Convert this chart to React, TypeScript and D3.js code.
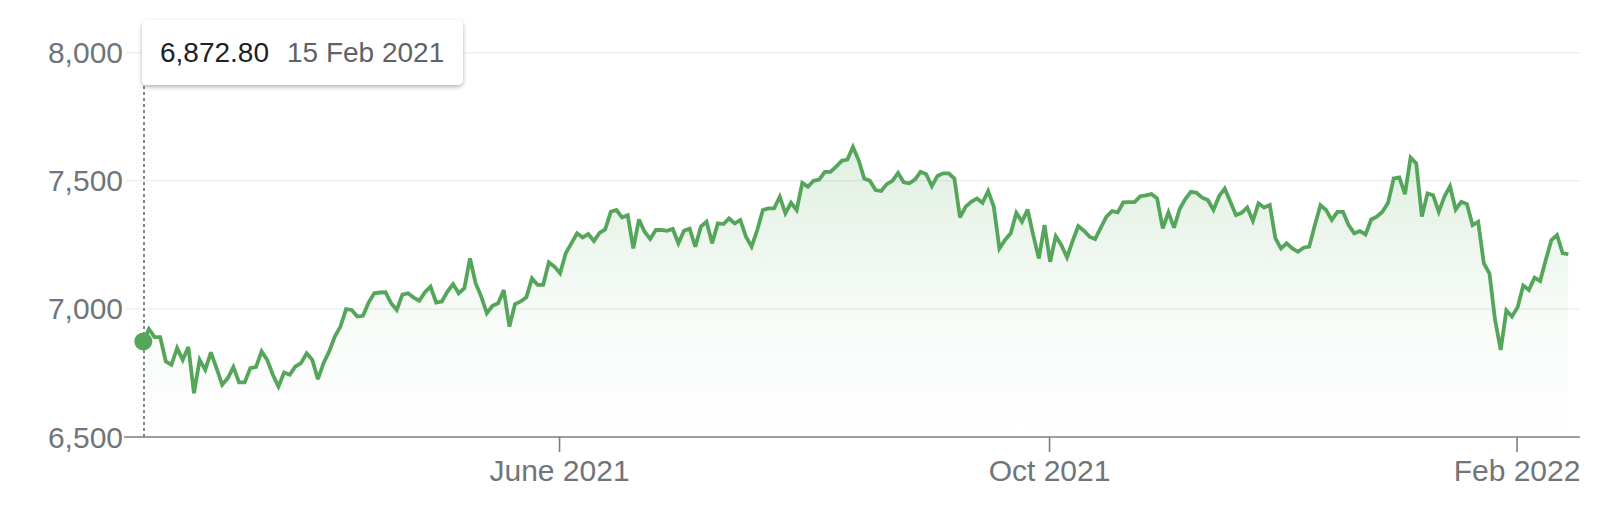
import React from "react";
import * as d3 from "d3";

// Daily closing values, 15 Feb 2021 onward
const values: number[] = [
  6872.8, 6921, 6890, 6890, 6795, 6782, 6847, 6801, 6851, 6671,
  6801, 6762, 6830, 6769, 6704, 6730, 6773, 6713, 6713, 6769,
  6773, 6834, 6801, 6743, 6697, 6752, 6743, 6775, 6788, 6827,
  6801, 6726, 6788, 6834, 6892, 6931, 6999, 6996, 6970, 6973,
  7025, 7061, 7064, 7065, 7022, 6996, 7056, 7061, 7044, 7032,
  7065, 7087, 7025, 7029, 7068, 7097, 7061, 7081, 7197, 7100,
  7048, 6983, 7012, 7022, 7074, 6931, 7019, 7029, 7045, 7119,
  7094, 7094, 7182, 7165, 7139, 7217, 7256, 7295, 7279, 7292,
  7265, 7297, 7310, 7379, 7386, 7357, 7366, 7236, 7349, 7301,
  7273, 7308, 7308, 7305, 7312, 7256, 7305, 7313, 7243, 7321,
  7340, 7256, 7334, 7331, 7353, 7334, 7347, 7282, 7243, 7308,
  7386, 7392, 7392, 7438, 7373, 7414, 7386, 7492, 7477, 7500,
  7505, 7535, 7535, 7555, 7578, 7583, 7632, 7581, 7509, 7500,
  7464, 7460, 7487, 7500, 7531, 7494, 7490, 7505, 7535, 7526,
  7479, 7519, 7529, 7529, 7509, 7357, 7399, 7418, 7431, 7414,
  7460, 7399, 7236, 7269, 7295, 7375, 7340, 7388, 7288, 7197,
  7327, 7184, 7284, 7249, 7201, 7265, 7323, 7305, 7282, 7273,
  7317, 7360, 7382, 7377, 7416, 7417, 7417, 7440, 7443, 7448,
  7431, 7314, 7377, 7317, 7390, 7429, 7457, 7453, 7434, 7425,
  7386, 7440, 7470, 7418, 7366, 7375, 7396, 7344, 7412, 7396,
  7406, 7275, 7236, 7256, 7236, 7223, 7239, 7243, 7327, 7405,
  7386, 7347, 7379, 7379, 7327, 7295, 7304, 7291, 7349, 7360,
  7379, 7414, 7509, 7513, 7448, 7591, 7568, 7360, 7451, 7444,
  7379, 7438, 7479, 7388, 7418, 7409, 7327, 7340, 7178, 7139,
  6957, 6840, 6994, 6970, 7006, 7091, 7074, 7122, 7109, 7191,
  7269, 7288, 7217, 7214,
];

const yTicks: number[] = [6500, 7000, 7500, 8000];
const xTickLabels: string[] = ["June 2021", "Oct 2021", "Feb 2022"];
const xTickIndex: number[] = [73.9, 160.9, 243.9];
const tooltipIndex = 0;
const tooltipDate = "15 Feb 2021";

const W = 1624;
const H = 530;
const FONT = "'Liberation Sans', Arial, Helvetica, sans-serif";
const GREEN = "#55a65a";

export default function App() {
  const x = d3.scaleLinear().domain([0, values.length - 1]).range([143.3, 1568.3]);
  const y = d3.scaleLinear().domain([6500, 8000]).range([437, 52.7]);

  const line = d3
    .line<number>()
    .x((_, i) => x(i))
    .y((d) => y(d));
  const area = d3
    .area<number>()
    .x((_, i) => x(i))
    .y0(y(6500))
    .y1((d) => y(d));

  const maxV = d3.max(values) as number;
  const tipX = x(tooltipIndex);
  const tipY = y(values[tooltipIndex]);
  const fmt = d3.format(",.2f");

  const gridLeft = 126;
  const gridRight = 1580;

  return (
    <svg
      width={W}
      height={H}
      style={{ position: "absolute", left: 0, top: 0, background: "#fff", fontFamily: FONT }}
    >
      <defs>
        <linearGradient id="fillGrad" gradientUnits="userSpaceOnUse" x1="0" x2="0" y1={y(maxV)} y2={y(6500)}>
          <stop offset="0%" stopColor={GREEN} stopOpacity={0.18} />
          <stop offset="55%" stopColor={GREEN} stopOpacity={0.05} />
          <stop offset="100%" stopColor={GREEN} stopOpacity={0} />
        </linearGradient>
        <filter id="shadow" x="-10%" y="-30%" width="120%" height="170%">
          <feDropShadow dx="0" dy="2" stdDeviation="2.2" floodColor="#000" floodOpacity="0.3" />
        </filter>
      </defs>

      {/* grid lines */}
      {yTicks.slice(1).map((t) => (
        <line key={t} x1={gridLeft} x2={gridRight} y1={y(t)} y2={y(t)} stroke="#efefef" strokeWidth={1.5} />
      ))}

      {/* y labels */}
      {yTicks.map((t) => (
        <text
          key={"yl" + t}
          x={123}
          y={y(t)}
          dy="0.35em"
          textAnchor="end"
          fontSize={30}
          fill="#70757a"
        >
          {d3.format(",")(t)}
        </text>
      ))}

      {/* area + line */}
      <path d={area(values) || ""} fill="url(#fillGrad)" />
      <path d={line(values) || ""} fill="none" stroke={GREEN} strokeWidth={3.8} strokeLinejoin="miter" strokeMiterlimit={3} />

      {/* x axis */}
      <line x1={124} x2={gridRight} y1={y(6500)} y2={y(6500)} stroke="#7a7e83" strokeWidth={1.6} />
      {xTickIndex.map((t, i) => (
        <g key={xTickLabels[i]}>
          <line x1={x(t)} x2={x(t)} y1={y(6500)} y2={y(6500) + 15} stroke="#7a7e83" strokeWidth={1.6} />
          <text x={x(t)} y={481} textAnchor="middle" fontSize={30} fill="#70757a">
            {xTickLabels[i]}
          </text>
        </g>
      ))}

      {/* hover guide */}
      <line x1={144} x2={144} y1={86} y2={y(6500)} stroke="#80868b" strokeWidth={2} strokeDasharray="3,3" />
      <circle cx={tipX} cy={tipY} r={9} fill={GREEN} />

      {/* tooltip */}
      <rect x={142} y={20} width={321} height={65} rx={5} fill="#fff" filter="url(#shadow)" />
      <text x={160} y={52.5} dy="0.35em" fontSize={28} fill="#202124">
        {fmt(values[tooltipIndex])}
      </text>
      <text x={287} y={52.5} dy="0.35em" fontSize={28} fill="#5f6368">
        {tooltipDate}
      </text>
    </svg>
  );
}
